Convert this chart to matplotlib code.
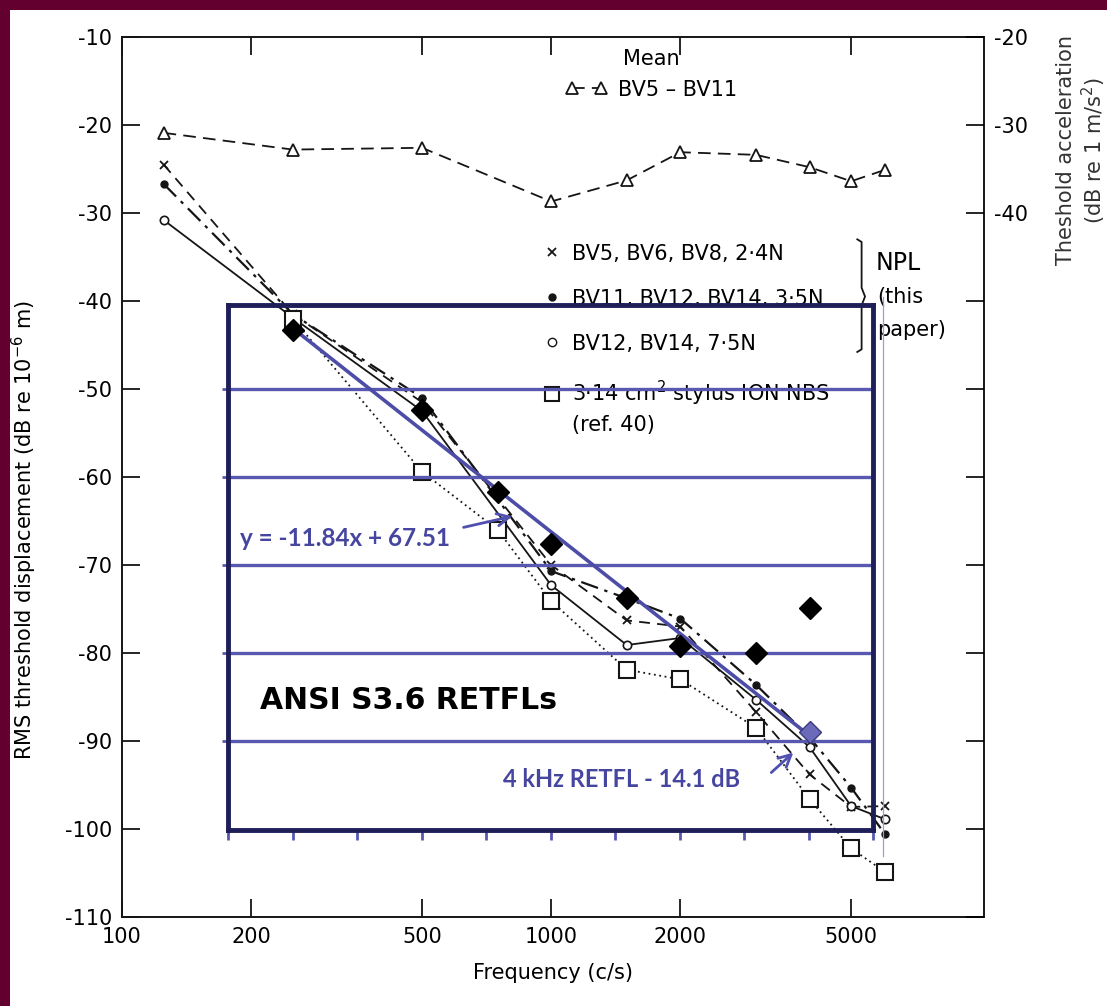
import matplotlib.pyplot as plt
from matplotlib.lines import Line2D
from matplotlib.patches import Rectangle

plt.rcParams['font.family'] = ['DejaVu Sans']
plt.rcParams['axes.unicode_minus'] = False

# --- data (dB re 1e-6 m) ---
mean_freq = [125, 250, 500, 1000, 1500, 2000, 3000, 4000, 5000, 6000]
mean_db = [-20.9, -22.8, -22.6, -28.7, -26.3, -23.1, -23.4, -24.8, -26.4, -25.1]

npl_freq = [125, 250, 500, 1000, 1500, 2000, 3000, 4000, 5000, 6000]
npl_24n = [-24.5, -41.5, -51.5, -70.0, -76.3, -77.0, -86.7, -93.8, -97.5, -97.4]
npl_35n = [-26.7, -41.5, -51.0, -70.7, -73.8, -76.1, -83.6, -89.6, -95.3, -100.6]
npl_75n = [-30.8, -41.9, -52.5, -72.3, -79.1, -78.3, -85.3, -90.7, -97.4, -98.9]

nbs_freq = [250, 500, 750, 1000, 1500, 2000, 3000, 4000, 5000, 6000]
nbs_db = [-42.0, -59.4, -66.0, -74.1, -81.9, -83.0, -88.5, -96.6, -102.2, -104.9]

# ANSI S3.6 RETFLs overlay
ansi_freq = [250, 500, 750, 1000, 1500, 2000, 3000, 4000]
ansi_db = [-43.3, -52.4, -61.7, -67.6, -73.7, -79.2, -80.0, -74.9]
ansi_4k_corr = -14.1
fit_freq = [250, 4000]
fit_db = [-43.1, -89.4]

x_ticks = [100, 200, 500, 1000, 2000, 5000]
y_ticks = list(range(-110, -9, 10))

blue = '#5858b0'
navy = '#1e1e58'
ink = '#151515'
note_blue = '#4646a0'

fig = plt.figure(figsize=(11.07, 10.06), dpi=100)
fig.patch.set_facecolor('#640030')
fig.add_artist(Rectangle((10 / 1107, 0), 1, 1 - 10 / 1006, transform=fig.transFigure,
                         facecolor='white', edgecolor='none', zorder=-5))

ax = fig.add_axes([0.1102, 0.0885, 0.7787, 0.8748])
ax.set_xscale('log')
ax.set_xlim(100, 10200)
ax.set_ylim(-110, -10)

# scanned series
h_mean, = ax.plot(mean_freq, mean_db, color=ink, lw=1.3, ls=(0, (7, 4)), marker='^',
                  ms=9, mfc='white', mec=ink, mew=1.3)
ax.plot(npl_freq, npl_24n, color=ink, lw=1.3, ls=(0, (6, 4)), marker='x', ms=6, mew=1.3)
ax.plot(npl_freq, npl_35n, color=ink, lw=1.6, ls=(0, (8, 3, 1.5, 3)), marker='o', ms=5)
ax.plot(npl_freq, npl_75n, color=ink, lw=1.3, ls='-', marker='o', ms=6, mfc='white', mew=1.2)
ax.plot(nbs_freq, nbs_db, color=ink, lw=1.3, ls=(0, (1, 2)), marker='s', ms=11,
        mfc='white', mew=1.5)

# overlay box of the ANSI chart
box_f = (176.6, 5630)
box_db = (-100.1, -40.5)
ov = ax.inset_axes([box_f[0], box_db[0], box_f[1] - box_f[0], box_db[1] - box_db[0]],
                   transform=ax.transData)
ov.patch.set_alpha(0)
ov.set_xlim(0, 10)
ov.set_ylim(*box_db)
ov.set_xticks(range(11))
ov.set_xticklabels([])
ov.set_yticks([-90, -80, -70, -60, -50])
ov.set_yticklabels([])
ov.tick_params(axis='x', direction='out', length=7, width=2, color=blue)
ov.tick_params(axis='y', direction='out', length=4, width=2, color=blue)
ov.grid(axis='y', color=blue, lw=2.4)
for s in ov.spines.values():
    s.set_color(navy)
    s.set_linewidth(3.5)
ov.plot([1.0155, 1.0155], [-0.05, 1.015], transform=ov.transAxes, color='#9a9ae6',
        lw=0.9, clip_on=False)
ov.set_zorder(5.5)

ax.plot(fit_freq, fit_db, color='#4d4da8', lw=2.6, zorder=6)
ax.plot(ansi_freq, ansi_db, ls='none', marker='D', ms=11, color='black', zorder=7)
ax.plot(ansi_freq[-1], ansi_db[-1] + ansi_4k_corr, ls='none', marker='D', ms=11,
        mfc='#6a6ab8', mec='#3a3a80', zorder=7)

ax.text(210, -85.4, 'ANSI S3.6 RETFLs', fontsize=21.5, fontweight='bold',
        va='center', color='black', zorder=8)
ax.text(188, -67.0, 'y = -11.84x + 67.51', fontsize=17.5, fontweight='bold', family='Lato',
        va='center', color=note_blue, zorder=8)
ax.annotate('', xy=(824, -64.4), xytext=(616, -65.8), zorder=8,
            arrowprops=dict(arrowstyle='->', color='#5050b0', lw=2, mutation_scale=22))
ax.text(772, -94.4, '4 kHz RETFL - 14.1 dB', fontsize=17, fontweight='bold', family='Lato',
        va='center', color=note_blue, zorder=8)
ax.annotate('', xy=(3709, -91.1), xytext=(3222, -93.8), zorder=8,
            arrowprops=dict(arrowstyle='->', color='#5050b0', lw=2, mutation_scale=22))

# legends
leg1 = ax.legend([h_mean], ['BV5 \u2013 BV11'], title='Mean', loc='upper center',
                 bbox_to_anchor=(0.614, 0.998), frameon=False, fontsize=15,
                 title_fontsize=15, numpoints=2, handlelength=2.0, borderpad=0,
                 handletextpad=0.5)
leg1.set_zorder(5)
ax.add_artist(leg1)

proxies = [Line2D([], [], ls='none', marker='x', color=ink, ms=6, mew=1.3),
           Line2D([], [], ls='none', marker='o', color=ink, ms=5),
           Line2D([], [], ls='none', marker='o', color=ink, ms=6, mfc='white'),
           Line2D([], [], ls='none', marker='s', color=ink, ms=10, mfc='white', mew=1.5)]
labels = ['BV5, BV6, BV8, 2\u00b74N', 'BV11, BV12, BV14, 3\u00b75N',
          'BV12, BV14, 7\u00b75N', '3\u00b714 cm$^2$ stylus ION NBS']
leg2 = ax.legend(proxies, labels, loc='upper left', bbox_to_anchor=(0.476, 0.777),
                 frameon=False, fontsize=15, handlelength=0.9, handletextpad=0.5,
                 borderpad=0, labelspacing=1.2)
leg2.set_zorder(5)
ax.text(0.522, 0.559, '(ref. 40)', transform=ax.transAxes, fontsize=15, va='center')

# NPL bracket
ax.plot([0.853, 0.858, 0.858, 0.862, 0.858, 0.858, 0.853],
        [0.770, 0.767, 0.715, 0.705, 0.695, 0.645, 0.642],
        transform=ax.transAxes, color=ink, lw=1.3, clip_on=False)
ax.text(0.874, 0.743, 'NPL', transform=ax.transAxes, fontsize=17, va='center', ha='left')
ax.text(0.876, 0.7045, '(this', transform=ax.transAxes, fontsize=15, va='center', ha='left')
ax.text(0.876, 0.667, 'paper)', transform=ax.transAxes, fontsize=15, va='center', ha='left')

# axes styling
ax.set_xticks(x_ticks)
ax.set_xticklabels([str(t) for t in x_ticks])
ax.xaxis.set_minor_locator(plt.NullLocator())
ax.set_yticks(y_ticks)
ax.set_yticklabels([str(t) for t in y_ticks])
ax.tick_params(which='both', direction='in', top=True, length=13, width=1.2,
               labelsize=15, pad=7)
for s in ax.spines.values():
    s.set_linewidth(1.4)
    s.set_color(ink)
ax.set_xlabel('Frequency (c/s)', fontsize=15, labelpad=12)
fig.text(24 / 1107, 1 - 530 / 1006, 'RMS threshold displacement (dB re 10$^{-6}$ m)',
         rotation=90, fontsize=15, ha='center', va='center')

ax2 = ax.twinx()
ax2.set_ylim(-120, -20)
ax2.set_yticks(list(range(-120, -19, 10)))
ax2.set_yticklabels(['' if t < -40 else str(t) for t in range(-120, -19, 10)])
ax2.tick_params(direction='in', length=13, width=1.2, labelsize=15, pad=7)
for s in ax2.spines.values():
    s.set_visible(False)

fig.text(1082 / 1107, 1 - 150 / 1006, 'Theshold acceleration\n(dB re 1 m/s$^2$)',
         rotation=90, fontsize=15, ha='center', va='center', color='#333333')

fig.savefig('out.png', dpi=100, facecolor=fig.get_facecolor())
